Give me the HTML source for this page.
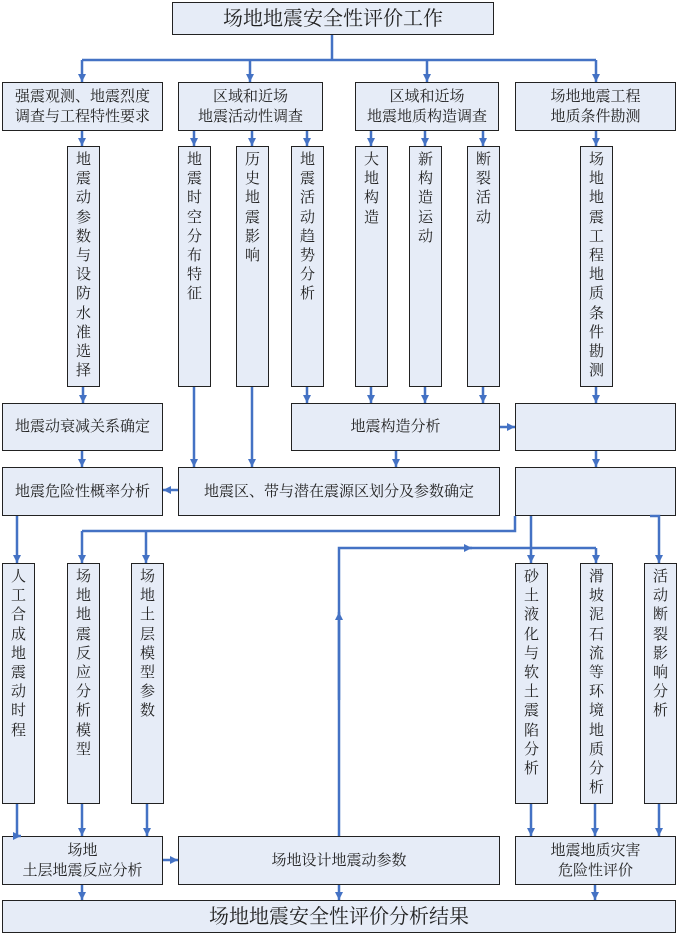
<!DOCTYPE html>
<html><head><meta charset="utf-8">
<style>
body{margin:0;width:678px;height:935px;background:#fff;position:relative;overflow:hidden;font-family:"Liberation Serif","Noto Serif CJK SC",serif;color:#222}
.b{position:absolute;box-sizing:border-box;background:#e6ecf7;border:1.5px solid #222;display:flex;align-items:center;justify-content:center;text-align:center;font-size:15px;line-height:20px}
.v{position:absolute;box-sizing:border-box;background:#e6ecf7;border:1.5px solid #222;font-size:15px;line-height:19.2px;padding-top:4px}
.v span{display:block;width:15px;margin:0 auto;word-break:break-all}
svg{position:absolute;left:0;top:0;z-index:5}
</style></head><body>

<div class="b" style="left:172px;top:2px;width:322px;height:33px;font-size:20px">场地地震安全性评价工作</div>

<div class="b" style="left:2px;top:82px;width:161px;height:49px">强震观测、地震烈度<br>调查与工程特性要求</div>
<div class="b" style="left:178px;top:82px;width:145px;height:49px">区域和近场<br>地震活动性调查</div>
<div class="b" style="left:355px;top:82px;width:144px;height:49px">区域和近场<br>地震地质构造调查</div>
<div class="b" style="left:515px;top:82px;width:161px;height:49px">场地地震工程<br>地质条件勘测</div>

<div class="v" style="left:67px;top:146px;width:33px;height:241px"><span>地震动参数与设防水准选择</span></div>
<div class="v" style="left:178px;top:146px;width:33px;height:241px"><span>地震时空分布特征</span></div>
<div class="v" style="left:236px;top:146px;width:33px;height:241px"><span>历史地震影响</span></div>
<div class="v" style="left:291px;top:146px;width:33px;height:241px"><span>地震活动趋势分析</span></div>
<div class="v" style="left:355px;top:146px;width:33px;height:241px"><span>大地构造</span></div>
<div class="v" style="left:409px;top:146px;width:33px;height:241px"><span>新构造运动</span></div>
<div class="v" style="left:467px;top:146px;width:33px;height:241px"><span>断裂活动</span></div>
<div class="v" style="left:580px;top:146px;width:33px;height:241px"><span>场地地震工程地质条件勘测</span></div>

<div class="b" style="left:2px;top:403px;width:161px;height:48px">地震动衰减关系确定</div>
<div class="b" style="left:291px;top:403px;width:209px;height:48px">地震构造分析</div>
<div class="b" style="left:515px;top:403px;width:161px;height:48px"></div>

<div class="b" style="left:2px;top:467px;width:161px;height:49px">地震危险性概率分析</div>
<div class="b" style="left:178px;top:467px;width:322px;height:49px">地震区、带与潜在震源区划分及参数确定</div>
<div class="b" style="left:515px;top:467px;width:161px;height:49px"></div>

<div class="v" style="left:2px;top:563px;width:33px;height:241px"><span>人工合成地震动时程</span></div>
<div class="v" style="left:67px;top:563px;width:33px;height:241px"><span>场地地震反应分析模型</span></div>
<div class="v" style="left:131px;top:563px;width:33px;height:241px"><span>场地土层模型参数</span></div>
<div class="v" style="left:515px;top:563px;width:33px;height:241px"><span>砂土液化与软土震陷分析</span></div>
<div class="v" style="left:580px;top:563px;width:33px;height:241px"><span>滑坡泥石流等环境地质分析</span></div>
<div class="v" style="left:644px;top:563px;width:33px;height:241px"><span>活动断裂影响分析</span></div>

<div class="b" style="left:2px;top:836px;width:161px;height:49px">场地<br>土层地震反应分析</div>
<div class="b" style="left:178px;top:836px;width:322px;height:49px">场地设计地震动参数</div>
<div class="b" style="left:515px;top:836px;width:161px;height:49px">地震地质灾害<br>危险性评价</div>

<div class="b" style="left:2px;top:900px;width:674px;height:33px;font-size:20px">场地地震安全性评价分析结果</div>

<svg width="678" height="935">
<defs><marker id="a" markerWidth="8" markerHeight="8" refX="8" refY="4" orient="auto" markerUnits="userSpaceOnUse"><path d="M0,0L8,4L0,8z" fill="#4472c4"/></marker></defs>
<g stroke="#4472c4" stroke-width="2.5" fill="none">
<path d="M332,35V60M82,60H596"/>
<path d="M515,516V531H82"/>
<path d="M339,836V548H596"/>
</g>
<g stroke="#4472c4" stroke-width="2.5" fill="none" marker-end="url(#a)">
<path d="M82,60V82"/><path d="M250,60V82"/><path d="M427,60V82"/><path d="M596,60V82"/>
<path d="M82,131V146"/><path d="M194,131V146"/><path d="M252,131V146"/><path d="M307,131V146"/><path d="M371,131V146"/><path d="M425,131V146"/><path d="M483,131V146"/><path d="M596,131V146"/>
<path d="M83,387V403"/><path d="M307,387V403"/><path d="M371,387V403"/><path d="M425,387V403"/><path d="M483,387V403"/><path d="M596,387V403"/><path d="M194,387V467"/><path d="M252,387V467"/>
<path d="M500,427H515"/><path d="M396,451V467"/><path d="M596,451V467"/><path d="M82,451V467"/>
<path d="M178,490H163"/>
<path d="M17,516V563"/>
<path d="M82,531V563"/><path d="M146,531V563"/>
<path d="M531,516V563"/><path d="M650,516H659V563"/>
<path d="M339,700V612"/>
<path d="M440,548H472"/>
<path d="M596,548V563"/>
<path d="M17,804V836H21"/><path d="M82,804V836"/><path d="M147,804V836"/><path d="M531,804V836"/><path d="M595,804V836"/><path d="M659,804V836"/>
<path d="M163,860H178"/>
<path d="M82,885V900"/><path d="M339,885V900"/><path d="M595,885V900"/>
</g></svg>
</body></html>
